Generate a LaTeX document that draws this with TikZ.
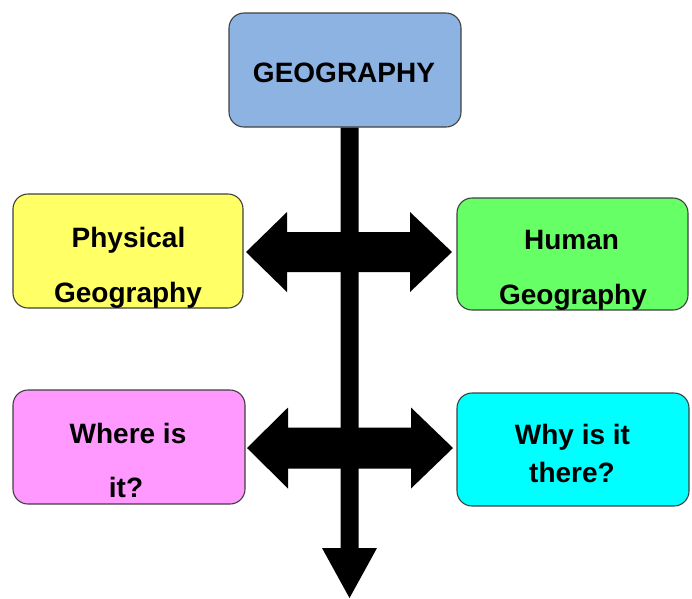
\documentclass[tikz,border=0pt]{standalone}
\usepackage{fontspec}
\setmainfont{Liberation Sans}
\definecolor{geoblue}{HTML}{8DB3E2}
\definecolor{physyellow}{HTML}{FFFF66}
\definecolor{humgreen}{HTML}{66FF66}
\definecolor{wherepink}{HTML}{FF99FF}
\definecolor{whycyan}{HTML}{00FFFF}
\definecolor{edgegray}{HTML}{404040}
\tikzset{
  box/.style={draw=edgegray, line width=1.1pt, rounded corners=15pt, inner sep=0pt},
  lbl/.style={anchor=base, inner sep=0pt, font=\fontsize{28}{30}\selectfont\bfseries},
  blockarrow/.style={fill=black, draw=none}
}
\begin{document}
\begin{tikzpicture}[x=1pt,y=-1pt]
\useasboundingbox (0,0) rectangle (692,598);
% boxes
\node[box, fill=geoblue, minimum width=232pt, minimum height=114pt] (geo) at (345,70) {};
\node[box, fill=physyellow, minimum width=230pt, minimum height=114pt] (phys) at (128,251) {};
\node[box, fill=humgreen, minimum width=231pt, minimum height=112pt] (hum) at (572.5,254) {};
\node[box, fill=wherepink, minimum width=232pt, minimum height=114pt] (where) at (129,447) {};
\node[box, fill=whycyan, minimum width=232pt, minimum height=113pt] (why) at (573,449.5) {};
% vertical arrow from GEOGRAPHY downward
\coordinate (vtip) at (349.5,598);
\fill[blockarrow] (geo.south -| 340.5,0) -- (geo.south -| 358.5,0) -- (358.5,548) -- (377,548)
  -- (vtip) -- (322,548) -- (340.5,548) -- cycle;
% double arrow between Physical and Human
\coordinate (a1l) at (246,252);
\coordinate (a1r) at (452,252);
\fill[blockarrow] (a1l) -- (287,212) -- (287,232) -- (410,232) -- (410,212) -- (a1r)
  -- (410,292) -- (410,272) -- (287,272) -- (287,292) -- cycle;
% double arrow between Where and Why
\coordinate (a2l) at (247,448);
\coordinate (a2r) at (453,448);
\fill[blockarrow] (a2l) -- (288,407.5) -- (288,427.5) -- (411,427.5) -- (411,407.5) -- (a2r)
  -- (411,488.5) -- (411,468.5) -- (288,468.5) -- (288,488.5) -- cycle;
% texts
\node[lbl] (tgeo) at (344,82) {GEOGRAPHY};
\node[lbl] (tphys1) at (128.5,247) {Physical};
\node[lbl] (tphys2) at (128,302) {Geography};
\node[lbl] (thum1) at (571.5,249) {Human};
\node[lbl] (thum2) at (573,304) {Geography};
\node[lbl] (twhere1) at (128,443) {Where is};
\node[lbl] (twhere2) at (126,497) {it?};
\node[lbl] (twhy1) at (572.5,444) {Why is it};
\node[lbl] (twhy2) at (572,482) {there?};
\end{tikzpicture}
\end{document}
